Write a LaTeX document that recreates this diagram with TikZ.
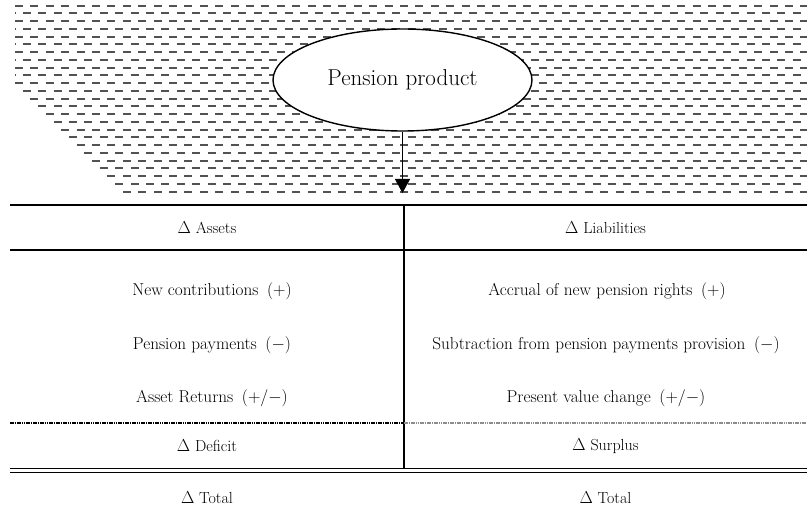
\documentclass[tikz,border=0pt]{standalone}
\usepackage{fontspec}
\usetikzlibrary{shapes.geometric,arrows.meta}
\tikzset{
  hatchrow/.style={line width=2pt, color=black!68, dash pattern=on 8pt off 7.4pt},
  prodnode/.style={ellipse, draw=black, line width=1.4pt, fill=white, minimum width=259pt, minimum height=102pt, inner sep=0pt, font=\fontsize{23}{27}\selectfont},
  cell/.style={font=\fontsize{16}{19}\selectfont, inner sep=0pt},
  cellrow/.style={font=\fontsize{17.2}{20}\selectfont, inner sep=0pt},
  rule/.style={line width=1.8pt, black},
  dotrule/.style={line width=1.8pt, dash pattern=on 1.6pt off 0.7pt},
  flow/.style={line width=1.4pt, -{Triangle[width=15pt,length=14pt]}},
}
\begin{document}
\begin{tikzpicture}[x=1pt,y=-1pt]
\useasboundingbox (0,0) rectangle (807,513);
% hatched background
\begin{scope}
\clip (15,1) -- (807,1) -- (807,195) -- (123,195) -- (15,87) -- cycle;
\foreach \k in {0,...,24}{
  \pgfmathsetmacro{\yy}{round(5.7+7.75*\k)}
  \pgfmathsetmacro{\ph}{mod(\k,2)*7.7}
  \draw[hatchrow, dash phase=\ph pt] (15,\yy) -- (807,\yy);
}
\end{scope}
% product
\node[prodnode] (prod) at (402.5,80) {Pension product};
\coordinate (tip) at (402.5,193);
\draw[flow] (prod.south) -- (tip);
% table geometry
\coordinate (tl) at (10,205);
\coordinate (tr) at (807,205);
\coordinate (hl) at (10,250);
\coordinate (hr) at (807,250);
\coordinate (dl) at (10,423);
\coordinate (dm) at (404,423);
\coordinate (dr) at (807,423);
\coordinate (bl) at (10,468.5);
\coordinate (br) at (807,468.5);
\coordinate (bl2) at (10,472.5);
\coordinate (br2) at (807,472.5);
\coordinate (vt) at (404,205);
\coordinate (vb) at (404,469);
\draw[rule] (tl) -- (tr);
\draw[rule] (hl) -- (hr);
\draw[rule] (vt) -- (vb);
\draw[dotrule, black] (dl) -- (dm);
\draw[dotrule, black!45] (dm) -- (dr);
\draw[line width=1.2pt] (bl) -- (br);
\draw[line width=1.2pt] (bl2) -- (br2);
% cells
\node[cell] (a0) at (207,227.5) {$\Delta$ Assets};
\node[cell] (l0) at (605.5,227.5) {$\Delta$ Liabilities};
\node[cellrow] (a1) at (212,291) {New contributions\hspace{0.5em}(+)};
\node[cellrow] (l1) at (607,291) {Accrual of new pension rights\hspace{0.5em}(+)};
\node[cellrow] (a2) at (212,345) {Pension payments\hspace{0.5em}($-$)};
\node[cellrow] (l2) at (606,345) {Subtraction from pension payments provision\hspace{0.5em}($-$)};
\node[cellrow] (a3) at (212,398) {Asset Returns\hspace{0.5em}(+/$-$)};
\node[cellrow] (l3) at (606,398) {Present value change\hspace{0.5em}(+/$-$)};
\node[cell] (a4) at (207,446) {$\Delta$ Deficit};
\node[cell] (l4) at (605.5,446) {$\Delta$ Surplus};
\node[cell] (a5) at (207,498) {$\Delta$ Total};
\node[cell] (l5) at (605.5,498) {$\Delta$ Total};
\end{tikzpicture}
\end{document}
